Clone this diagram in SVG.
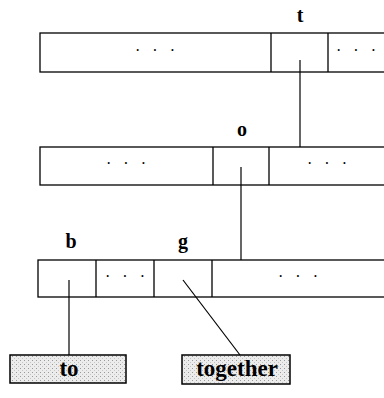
<svg xmlns="http://www.w3.org/2000/svg" width="384" height="398" viewBox="0 0 384 398">
<style>
.cell{fill:#fff;stroke:#000;stroke-width:1.3}
.div{stroke:#000;stroke-width:1.3}
.dots{font-family:"Liberation Serif",serif;font-size:16px;letter-spacing:4px;text-anchor:middle}
.lbl{font-family:"Liberation Serif",serif;font-size:20px;font-weight:bold;text-anchor:middle}
.word{font-family:"Liberation Serif",serif;font-weight:bold;font-size:23px;text-anchor:middle}
.leaf{fill:url(#stip);stroke:#000;stroke-width:1.5}
.conn{stroke:#000;stroke-width:1.2;fill:none}
</style>
<defs>
<pattern id="stip" width="4" height="4" patternUnits="userSpaceOnUse">
<rect width="4" height="4" fill="#ececec"/>
<rect x="0" y="0" width="1" height="1" fill="#999"/>
<rect x="2" y="2" width="1" height="1" fill="#c4c4c4"/>
</pattern>
</defs>
<g id="node-t">
<rect class="cell" x="40" y="33" width="350" height="39"/>
<line class="div" x1="271" y1="33" x2="271" y2="72"/>
<line class="div" x1="328" y1="33" x2="328" y2="72"/>
<text class="dots" x="157" y="56">· · ·</text>
<text class="dots" x="358" y="56">· · ·</text>
<text class="lbl" x="300" y="22">t</text>
</g>
<g id="node-o">
<rect class="cell" x="40" y="147" width="350" height="38"/>
<line class="div" x1="213" y1="147" x2="213" y2="185"/>
<line class="div" x1="269" y1="147" x2="269" y2="185"/>
<text class="dots" x="128" y="169">· · ·</text>
<text class="dots" x="329" y="169">· · ·</text>
<text class="lbl" x="242" y="136">o</text>
</g>
<g id="node-bg">
<rect class="cell" x="38" y="260" width="352" height="37"/>
<line class="div" x1="96" y1="260" x2="96" y2="297"/>
<line class="div" x1="154" y1="260" x2="154" y2="297"/>
<line class="div" x1="212" y1="260" x2="212" y2="297"/>
<text class="dots" x="127" y="282">· · ·</text>
<text class="dots" x="300" y="282">· · ·</text>
<text class="lbl" x="71" y="248">b</text>
<text class="lbl" x="183" y="248">g</text>
</g>
<g id="node-to">
<rect class="leaf" x="10" y="355" width="116" height="28"/>
<text class="word" x="69" y="376">to</text>
</g>
<g id="node-together">
<rect class="leaf" x="182" y="355" width="108" height="29"/>
<text class="word" x="237" y="376">together</text>
</g>
<g id="connectors">
<line class="conn" x1="300" y1="60" x2="300" y2="147"/>
<line class="conn" x1="241" y1="167" x2="241" y2="260"/>
<line class="conn" x1="69" y1="280" x2="69" y2="355"/>
<line class="conn" x1="183" y1="280" x2="240" y2="355"/>
</g>
</svg>
